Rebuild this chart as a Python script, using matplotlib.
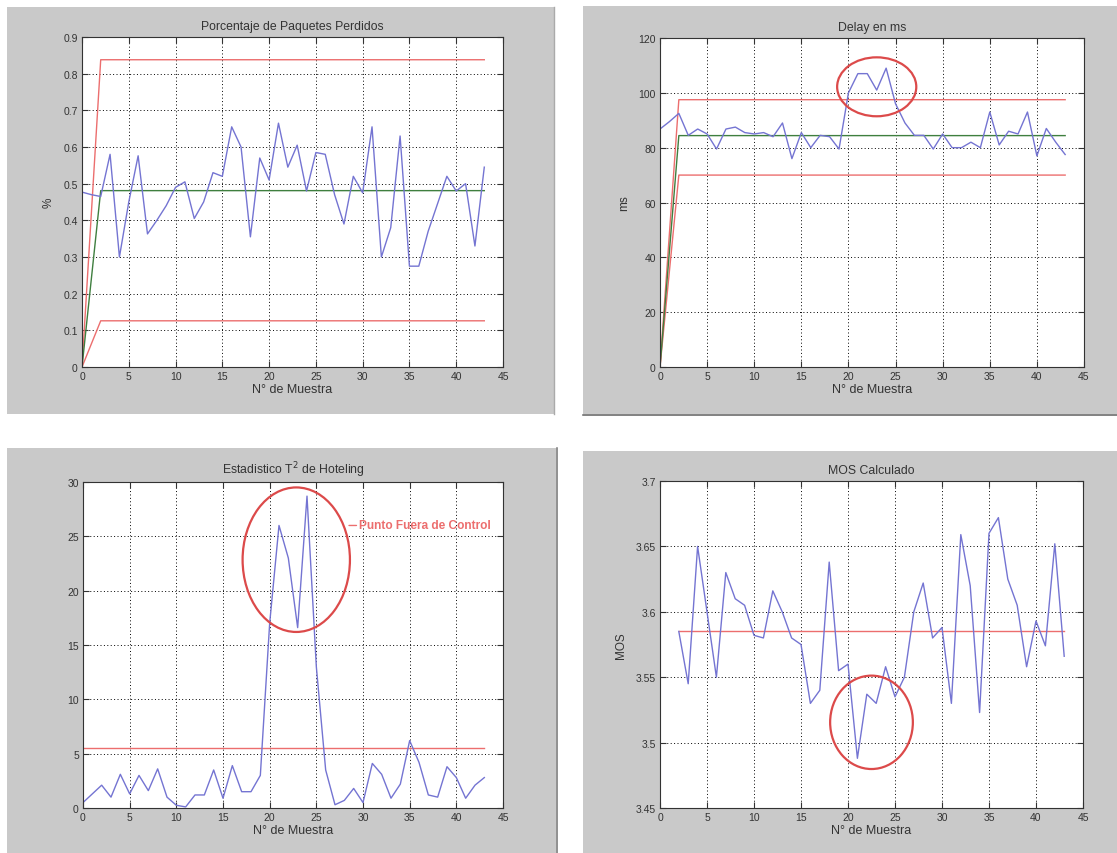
import matplotlib
matplotlib.use("Agg")
import matplotlib.pyplot as plt
from matplotlib.patches import Rectangle, Ellipse
from matplotlib.lines import Line2D

plt.rcParams['font.family'] = ['Liberation Sans', 'DejaVu Sans']

# ---------------- data ----------------
x_tl = list(range(0, 44))
loss_pct = [0.477, 0.47, 0.465, 0.58, 0.30, 0.45, 0.576, 0.363, 0.40, 0.44,
            0.49, 0.505, 0.405, 0.45, 0.53, 0.52, 0.655, 0.60, 0.355, 0.57,
            0.51, 0.665, 0.545, 0.605, 0.48, 0.585, 0.58, 0.47, 0.39, 0.52,
            0.475, 0.655, 0.30, 0.38, 0.63, 0.275, 0.275, 0.37, 0.445, 0.52,
            0.48, 0.50, 0.33, 0.545]
lim_x = [0, 2, 43]
loss_ucl = [0, 0.838, 0.838]
loss_cl = [0, 0.481, 0.481]
loss_lcl = [0, 0.126, 0.126]

x_tr = list(range(0, 44))
delay_ms = [86.8, 89.5, 92.5, 84.5, 86.8, 85, 79.5, 86.8, 87.5, 85.5,
            85, 85.5, 84, 89, 76, 85.5, 80, 84.5, 84, 79.5,
            100, 107, 107, 101, 109, 96, 89, 84.5, 84.5, 79.5,
            85, 80, 80, 82, 80, 93, 81, 86, 85, 93,
            77, 87, 82, 77.5]
delay_ucl = [0, 97.5, 97.5]
delay_cl = [0, 84.4, 84.4]
delay_lcl = [0, 70, 70]

x_bl = list(range(0, 44))
t2_values = [0.5, 1.3, 2.1, 1.0, 3.1, 1.3, 3.0, 1.6, 3.6, 1.0,
             0.25, 0.1, 1.2, 1.2, 3.5, 0.9, 3.9, 1.5, 1.5, 3.0,
             17.0, 26.0, 23.0, 16.6, 28.7, 13.0, 3.5, 0.3, 0.7, 1.8,
             0.5, 4.1, 3.1, 0.9, 2.2, 6.2, 4.2, 1.2, 1.0, 3.8,
             2.8, 0.9, 2.1, 2.8]
t2_lim_x = [0, 43]
t2_limit = [5.5, 5.5]

x_br = list(range(2, 44))
mos_values = [3.585, 3.545, 3.65, 3.60, 3.55, 3.63, 3.61, 3.605, 3.582, 3.58,
              3.616, 3.60, 3.58, 3.575, 3.53, 3.54, 3.638, 3.555, 3.56, 3.488,
              3.537, 3.53, 3.558, 3.535, 3.55, 3.60, 3.622, 3.58, 3.588, 3.53,
              3.659, 3.62, 3.523, 3.66, 3.672, 3.625, 3.605, 3.558, 3.593, 3.574,
              3.652, 3.566]
mos_lim_x = [2, 43]
mos_mean = [3.585, 3.585]

titles = ['Porcentaje de Paquetes Perdidos', 'Delay en ms',
          'Estadistico T$^2$ de Hoteling', 'MOS Calculado']
ylabels = ['%', 'ms', '', 'MOS']
xlabel = 'N° de Muestra'
annot_text = 'Punto Fuera de Control'

# ---------------- styling ----------------
W, H = 1117, 854
BLUE = '#7474d2'
RED = '#ec6e6e'
GREEN = '#3f7f3f'
ELL = '#dc4a4a'
GRAY = '#c9c9c9'

fig = plt.figure(figsize=(W / 100, H / 100), dpi=100)
fig.patch.set_facecolor('white')

def px_rect(x0, y0, x1, y1):
    return [x0 / W, 1 - y1 / H, (x1 - x0) / W, (y1 - y0) / H]

frames = [(7, 8, 555, 415), (583, 7, 1117, 417), (7, 449, 558, 854), (583, 452, 1117, 854)]
for (x0, y0, x1, y1) in frames:
    r = px_rect(x0, y0, x1, y1)
    fig.patches.append(Rectangle((r[0], r[1]), r[2], r[3], transform=fig.transFigure,
                                 facecolor=GRAY, edgecolor='none', zorder=-5))
# darker frame edges
fig.lines.append(Line2D([583 / W, 1117 / W], [1 - 416 / H] * 2, transform=fig.transFigure,
                        color='#777777', lw=1.2, zorder=-4))
fig.lines.append(Line2D([557 / W] * 2, [1 - 449 / H, 0], transform=fig.transFigure,
                        color='#888888', lw=1.2, zorder=-4))
fig.lines.append(Line2D([554 / W] * 2, [1 - 8 / H, 1 - 415 / H], transform=fig.transFigure,
                        color='#aaaaaa', lw=1.0, zorder=-4))

axes_px = [(82, 38, 503, 368), (660, 39, 1084, 368), (83, 483, 503, 809), (660, 482, 1083, 809)]
axs = [fig.add_axes(px_rect(*a)) for a in axes_px]

for ax, t, yl in zip(axs, titles, ylabels):
    ax.set_zorder(2)
    ax.set_facecolor('white')
    ax.set_xlim(0, 45)
    ax.set_xticks(range(0, 46, 5))
    ax.grid(True, color='black', linestyle=(0, (1, 2.5)), linewidth=0.7)
    ax.tick_params(direction='in', top=True, right=True, length=4, width=0.8,
                   labelsize=7.5, colors='#333333', pad=3)
    for s in ax.spines.values():
        s.set_color('#333333')
        s.set_linewidth(0.8)
    ax.set_title(t, fontsize=8.8, color='#333333', pad=6)
    ax.set_xlabel(xlabel, fontsize=9, color='#333333', labelpad=1)
    if yl:
        ax.set_ylabel(yl, fontsize=8.5, color='#333333', labelpad=6)

# Top-left
ax = axs[0]
ax.plot(lim_x, loss_ucl, color=RED, lw=1.0)
ax.plot(lim_x, loss_lcl, color=RED, lw=1.0)
ax.plot(lim_x, loss_cl, color=GREEN, lw=1.0)
ax.plot(x_tl, loss_pct, color=BLUE, lw=1.0)
ax.set_ylim(0, 0.9)
ax.set_yticks([i / 10 for i in range(10)])
ax.set_yticklabels(['0'] + ['%.1f' % (i / 10) for i in range(1, 10)])

# Top-right
ax = axs[1]
ax.plot(lim_x, delay_ucl, color=RED, lw=1.0)
ax.plot(lim_x, delay_lcl, color=RED, lw=1.0)
ax.plot(lim_x, delay_cl, color=GREEN, lw=1.0)
ax.plot(x_tr, delay_ms, color=BLUE, lw=1.0)
ax.set_ylim(0, 120)
ax.set_yticks(range(0, 121, 20))
ax.add_patch(Ellipse((23.0, 102.2), 8.4, 21.5, fill=False, edgecolor=ELL, lw=1.6, zorder=5))

# Bottom-left
ax = axs[2]
ax.plot(t2_lim_x, t2_limit, color=RED, lw=1.0)
ax.plot(x_bl, t2_values, color=BLUE, lw=1.0)
ax.set_ylim(0, 30)
ax.set_yticks(range(0, 31, 5))
ax.add_patch(Ellipse((22.85, 22.85), 11.5, 13.3, fill=False, edgecolor=ELL, lw=1.6, zorder=5))
ax.annotate(annot_text, xy=(28.5, 26.0), xytext=(29.6, 26.0), color=RED,
            fontsize=8.6, fontweight='bold', va='center', ha='left',
            annotation_clip=False,
            arrowprops=dict(arrowstyle='-', color=RED, lw=1.0, shrinkA=0, shrinkB=0))

# Bottom-right
ax = axs[3]
ax.plot(mos_lim_x, mos_mean, color=RED, lw=1.0)
ax.plot(x_br, mos_values, color=BLUE, lw=1.0)
ax.set_ylim(3.45, 3.7)
ax.set_yticks([3.45, 3.5, 3.55, 3.6, 3.65, 3.7])
ax.set_yticklabels(['3.45', '3.5', '3.55', '3.6', '3.65', '3.7'])
ax.add_patch(Ellipse((22.5, 3.5155), 8.8, 0.0714, fill=False, edgecolor=ELL, lw=1.6, zorder=5))

fig.savefig('out.png', dpi=100, facecolor='white')
